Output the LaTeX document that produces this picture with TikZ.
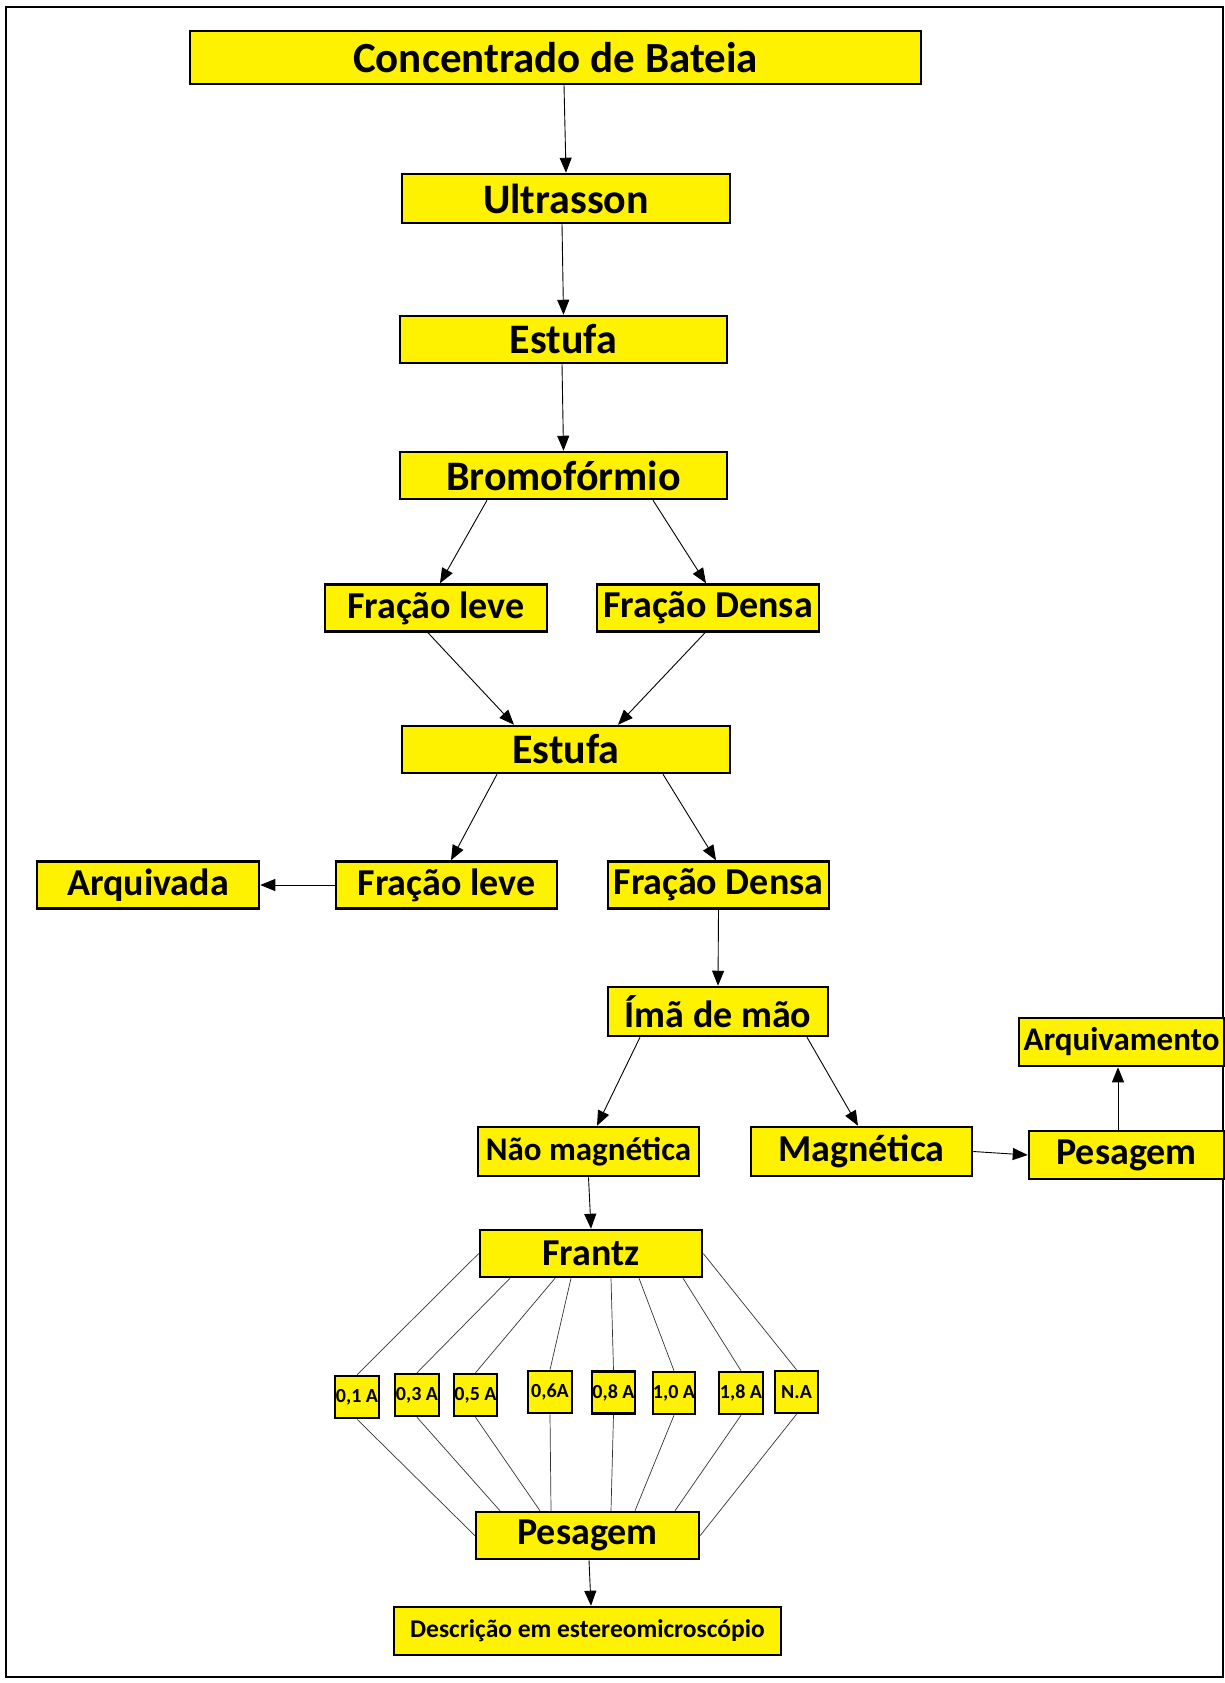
\documentclass[tikz,border=0pt]{standalone}
\usepackage{fontspec}
\setmainfont{Carlito}
\usetikzlibrary{arrows.meta}
\newcommand{\fs}[1]{\fontsize{#1}{#1}\selectfont\bfseries}
\begin{document}
\begin{tikzpicture}[x=1pt, y=-1pt,
  yellow box/.style={draw, line width=2.5pt, fill=yellow, inner sep=0pt, minimum height=47pt},
  arrow/.style={line width=0.9pt, -{Triangle[length=15pt, width=12pt]}},
  fan/.style={line width=0.7pt, draw=black!80}]

  \useasboundingbox (0,0) rectangle (1225,1683);
  \draw[line width=1.5pt] (6,7) rectangle (1223,1677);

  \node[yellow box, minimum width=731pt, minimum height=53pt] at (555.5, 57.5) (conc) {\fs{43}Concentrado de Bateia};
  \node[yellow box, minimum width=328pt, minimum height=49pt] at (566, 198.5) (ultra) {\fs{42}Ultrasson};
  \node[yellow box, minimum width=327pt] at (563.5, 339.5) (estufa1) {\fs{42}Estufa};
  \node[yellow box, minimum width=327pt] at (563.5, 475.5) (bromo) {\fs{42}Bromofórmio};
  \node[yellow box, minimum width=222pt] at (436, 608) (leve1) {\fs{38}Fração leve};
  \node[yellow box, minimum width=222pt] at (708, 608) (densa1) {\fs{38}Fração Densa};
  \node[yellow box, minimum width=328pt] at (566, 749.5) (estufa2) {\fs{42}Estufa};
  \node[yellow box, minimum width=222pt] at (148, 885) (arquivada) {\fs{38}Arquivada};
  \node[yellow box, minimum width=221pt] at (446.5, 885) (leve2) {\fs{38}Fração leve};
  \node[yellow box, minimum width=221pt] at (718.5, 885) (densa2) {\fs{38}Fração Densa};
  \node[yellow box, minimum width=220pt, minimum height=49pt] at (718, 1011.5) (ima) {\fs{38}Ímã de mão};
  \node[yellow box, minimum width=205pt, minimum height=48pt] at (1121.5, 1042) (arquivamento) {\fs{33}Arquivamento};
  \node[yellow box, minimum width=221pt, minimum height=49pt] at (588.5, 1151.5) (naomag) {\fs{33}Não magnética};
  \node[yellow box, minimum width=221pt, minimum height=49pt] at (861.5, 1151.5) (mag) {\fs{38}Magnética};
  \node[yellow box, minimum width=195pt, minimum height=48pt] at (1126.5, 1155) (pesagem1) {\fs{38}Pesagem};
  \node[yellow box, minimum width=222pt] at (591, 1253.5) (frantz) {\fs{38}Frantz};

  \node[yellow box, minimum width=44pt, minimum height=42pt] at (357, 1397) (a01) {\fs{20}0,1 A};
  \node[yellow box, minimum width=44pt, minimum height=42pt] at (417, 1395) (a03) {\fs{20}0,3 A};
  \node[yellow box, minimum width=43pt, minimum height=42pt] at (475.5, 1395) (a05) {\fs{20}0,5 A};
  \node[yellow box, minimum width=44pt, minimum height=42pt] at (550, 1392) (a06) {\fs{20}0,6A};
  \node[yellow box, minimum width=43pt, minimum height=42pt] at (613.5, 1392.5) (a08) {\fs{20}0,8 A};
  \node[yellow box, minimum width=42pt, minimum height=42pt] at (674, 1393) (a10) {\fs{20}1,0 A};
  \node[yellow box, minimum width=44pt, minimum height=42pt] at (741, 1393) (a18) {\fs{20}1,8 A};
  \node[yellow box, minimum width=43pt, minimum height=42pt] at (796.5, 1392) (na) {\fs{20}N.A};

  \node[yellow box, minimum width=223pt] at (587.5, 1535.5) (pesagem2) {\fs{38}Pesagem};
  \node[yellow box, minimum width=387pt, minimum height=48pt] at (587.5, 1631) (descricao) {\fs{25.5}Descrição em estereomicroscópio};

  % main line
  \path[arrow] ([xshift=8.5pt]conc.south) edge (ultra.north);
  \path[arrow] ([xshift=-4pt]ultra.south) edge (estufa1.north);
  \path[arrow] ([xshift=-1.5pt]estufa1.south) edge (bromo.north);
  \path[arrow] ([xshift=-76.5pt]bromo.south) edge ([xshift=4pt]leve1.north);
  \path[arrow] ([xshift=89.5pt]bromo.south) edge ([xshift=-2pt]densa1.north);
  \path[arrow] ([xshift=-8pt]leve1.south) edge ([xshift=-52pt]estufa2.north);
  \path[arrow] ([xshift=-3pt]densa1.south) edge ([xshift=52pt]estufa2.north);
  \path[arrow] ([xshift=-69pt]estufa2.south) edge ([xshift=4.5pt]leve2.north);
  \path[arrow] ([xshift=97pt]estufa2.south) edge ([xshift=-2.5pt]densa2.north);
  \path[arrow] (leve2.west) edge (arquivada.east);
  \path[arrow] (densa2.south) edge (ima.north);
  \path[arrow] ([xshift=-78pt]ima.south) edge ([xshift=8.5pt]naomag.north);
  \path[arrow] ([xshift=89pt]ima.south) edge ([xshift=-3.5pt]mag.north);
  \path[arrow] (mag.east) edge (pesagem1.west);
  \path[arrow] ([xshift=-8.5pt]pesagem1.north) edge ([xshift=-3.5pt]arquivamento.south);
  \path[arrow] (naomag.south) edge (frantz.north);

  % Frantz fractions
  \path[fan] (frantz.west) edge (a01.north);
  \path[fan] ([xshift=-81pt]frantz.south) edge (a03.north);
  \path[fan] ([xshift=-36pt]frantz.south) edge (a05.north);
  \path[fan] ([xshift=-20pt]frantz.south) edge (a06.north);
  \path[fan] ([xshift=20pt]frantz.south) edge (a08.north);
  \path[fan] ([xshift=48pt]frantz.south) edge (a10.north);
  \path[fan] ([xshift=92pt]frantz.south) edge (a18.north);
  \path[fan] (frantz.east) edge (na.north);

  \path[fan] (a01.south) edge (pesagem2.west);
  \path[fan] (a03.south) edge ([xshift=-87.5pt]pesagem2.north);
  \path[fan] (a05.south) edge ([xshift=-47.5pt]pesagem2.north);
  \path[fan] (a06.south) edge ([xshift=-36.5pt]pesagem2.north);
  \path[fan] (a08.south) edge ([xshift=23.5pt]pesagem2.north);
  \path[fan] (a10.south) edge ([xshift=47.5pt]pesagem2.north);
  \path[fan] (a18.south) edge ([xshift=87.5pt]pesagem2.north);
  \path[fan] (na.south) edge (pesagem2.east);

  \path[arrow] ([xshift=1.5pt]pesagem2.south) edge ([xshift=3.5pt]descricao.north);
\end{tikzpicture}
\end{document}
